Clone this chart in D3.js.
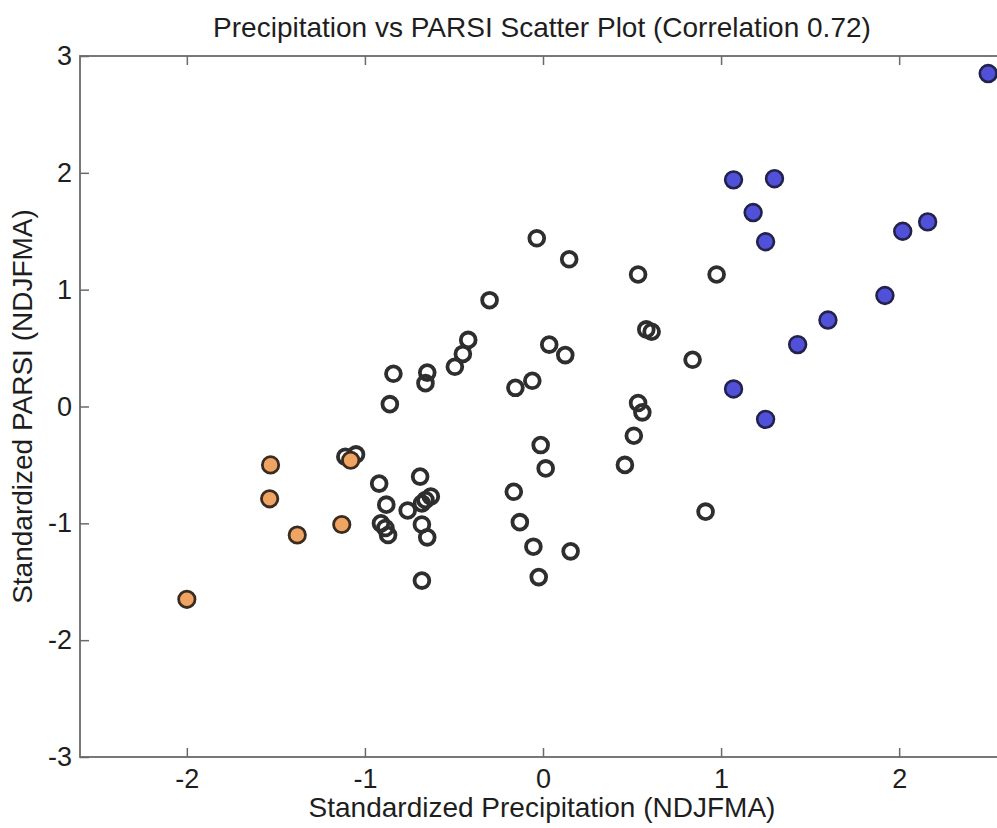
<!DOCTYPE html>
<html>
<head>
<meta charset="utf-8">
<script src="https://cdn.jsdelivr.net/npm/d3@7"></script>
<style>
  html, body { margin: 0; padding: 0; background: #fff; overflow: hidden; }
  svg { display: block; font-family: "Liberation Sans", Arial, sans-serif; }
</style>
</head>
<body>
<svg id="chart" width="997" height="828"></svg>
<script>
// ---- Data ----
const title = "Precipitation vs PARSI Scatter Plot (Correlation 0.72)";
const xLabel = "Standardized Precipitation (NDJFMA)";
const yLabel = "Standardized PARSI (NDJFMA)";
const xTicks = [-2, -1, 0, 1, 2];
const yTicks = [-3, -2, -1, 0, 1, 2, 3];

// Neutral years (open circles): [precip, parsi]
const neutralPoints = [
  [-0.035, 1.44], [0.147, 1.26], [0.534, 1.13], [-0.30, 0.91], [-0.42, 0.57],
  [-0.45, 0.45], [-0.495, 0.34], [-0.84, 0.28], [-0.65, 0.29], [-0.66, 0.20],
  [-0.86, 0.02], [0.035, 0.53], [0.125, 0.44], [-0.155, 0.16], [-0.06, 0.22],
  [0.58, 0.66], [0.61, 0.64], [0.534, 0.03], [0.558, -0.05], [-0.013, -0.33],
  [0.015, -0.53], [-0.164, -0.73], [-0.13, -0.99], [-0.054, -1.20], [0.155, -1.24],
  [-0.024, -1.46], [0.51, -0.25], [0.46, -0.50], [0.913, -0.90], [0.975, 1.13],
  [0.84, 0.40], [-0.92, -0.66], [-0.88, -0.84], [-0.91, -1.00], [-0.885, -1.04],
  [-0.87, -1.10], [-0.76, -0.89], [-0.69, -0.60], [-0.63, -0.77], [-0.66, -0.80],
  [-0.68, -0.83], [-0.68, -1.01], [-0.65, -1.12], [-0.68, -1.49], [-1.11, -0.43],
  [-1.05, -0.41]
];
// Dry years (orange)
const dryPoints = [
  [-2.0, -1.65], [-1.53, -0.50], [-1.535, -0.79], [-1.38, -1.10], [-1.13, -1.01],
  [-1.08, -0.46]
];
// Wet years (blue)
const wetPoints = [
  [1.07, 1.94], [1.30, 1.95], [1.18, 1.66], [1.25, 1.41], [2.02, 1.50],
  [2.16, 1.58], [1.92, 0.95], [1.60, 0.74], [1.43, 0.53], [1.07, 0.15],
  [1.25, -0.11], [2.50, 2.85]
];

// ---- Layout ----
const svg = d3.select("#chart");
const mLeft = 80, mRight = 1006, mTop = 56, mBottom = 757;

const x = d3.scaleLinear().domain([-2.6, 2.6]).range([mLeft, mRight]);
const y = d3.scaleLinear().domain([-3, 3]).range([mBottom, mTop]);

const axisColor = "#6a6a6a";
const tickLen = 9;
const fontSize = 27;
const labelSize = 28;
const textColor = "#1e1e1e";
const fmt = d => String(d);   // hyphen-minus like the reference

// Box
svg.append("rect")
  .attr("x", mLeft).attr("y", mTop)
  .attr("width", mRight - mLeft).attr("height", mBottom - mTop)
  .attr("fill", "none").attr("stroke", axisColor).attr("stroke-width", 1.8);

// Axes via d3 (inner ticks)
const gx = svg.append("g").attr("transform", `translate(0,${mBottom})`)
  .call(d3.axisBottom(x).tickValues(xTicks).tickSizeInner(-tickLen).tickSizeOuter(0).tickPadding(12).tickFormat(fmt));
const gxt = svg.append("g").attr("transform", `translate(0,${mTop})`)
  .call(d3.axisTop(x).tickValues(xTicks).tickSizeInner(-tickLen).tickSizeOuter(0).tickFormat(""));
const gy = svg.append("g").attr("transform", `translate(${mLeft},0)`)
  .call(d3.axisLeft(y).tickValues(yTicks).tickSizeInner(-tickLen).tickSizeOuter(0).tickPadding(8).tickFormat(fmt));
const gyr = svg.append("g").attr("transform", `translate(${mRight},0)`)
  .call(d3.axisRight(y).tickValues(yTicks).tickSizeInner(-tickLen).tickSizeOuter(0).tickFormat(""));

[gx, gxt, gy, gyr].forEach(g => {
  g.select(".domain").remove();
  g.selectAll(".tick line").attr("stroke", axisColor).attr("stroke-width", 1.5);
  g.selectAll(".tick text").attr("fill", textColor).attr("font-size", fontSize)
    .attr("font-family", "'Liberation Sans', Arial, sans-serif");
});

// Title and labels
svg.append("text").attr("x", 542).attr("y", 37).attr("text-anchor", "middle")
  .attr("font-size", labelSize).attr("fill", textColor).text(title);
svg.append("text").attr("x", 542).attr("y", 817).attr("text-anchor", "middle")
  .attr("font-size", labelSize).attr("fill", textColor).text(xLabel);
svg.append("text").attr("transform", `translate(32,${(mTop + mBottom) / 2}) rotate(-90)`)
  .attr("text-anchor", "middle").attr("font-size", labelSize).attr("fill", textColor).text(yLabel);

// Points
const plot = svg.append("g");
plot.selectAll("circle.neutral").data(neutralPoints).enter().append("circle")
  .attr("class", "neutral")
  .attr("cx", d => x(d[0])).attr("cy", d => y(d[1])).attr("r", 7.4)
  .attr("fill", "none").attr("stroke", "#2e2e2e").attr("stroke-width", 3.8);
plot.selectAll("circle.dry").data(dryPoints).enter().append("circle")
  .attr("class", "dry")
  .attr("cx", d => x(d[0])).attr("cy", d => y(d[1])).attr("r", 8.2)
  .attr("fill", "#f0a464").attr("stroke", "#3a2c20").attr("stroke-width", 2.8);
plot.selectAll("circle.wet").data(wetPoints).enter().append("circle")
  .attr("class", "wet")
  .attr("cx", d => x(d[0])).attr("cy", d => y(d[1])).attr("r", 8.4)
  .attr("fill", "#5050d8").attr("stroke", "#22224a").attr("stroke-width", 2.6);
</script>
</body>
</html>
